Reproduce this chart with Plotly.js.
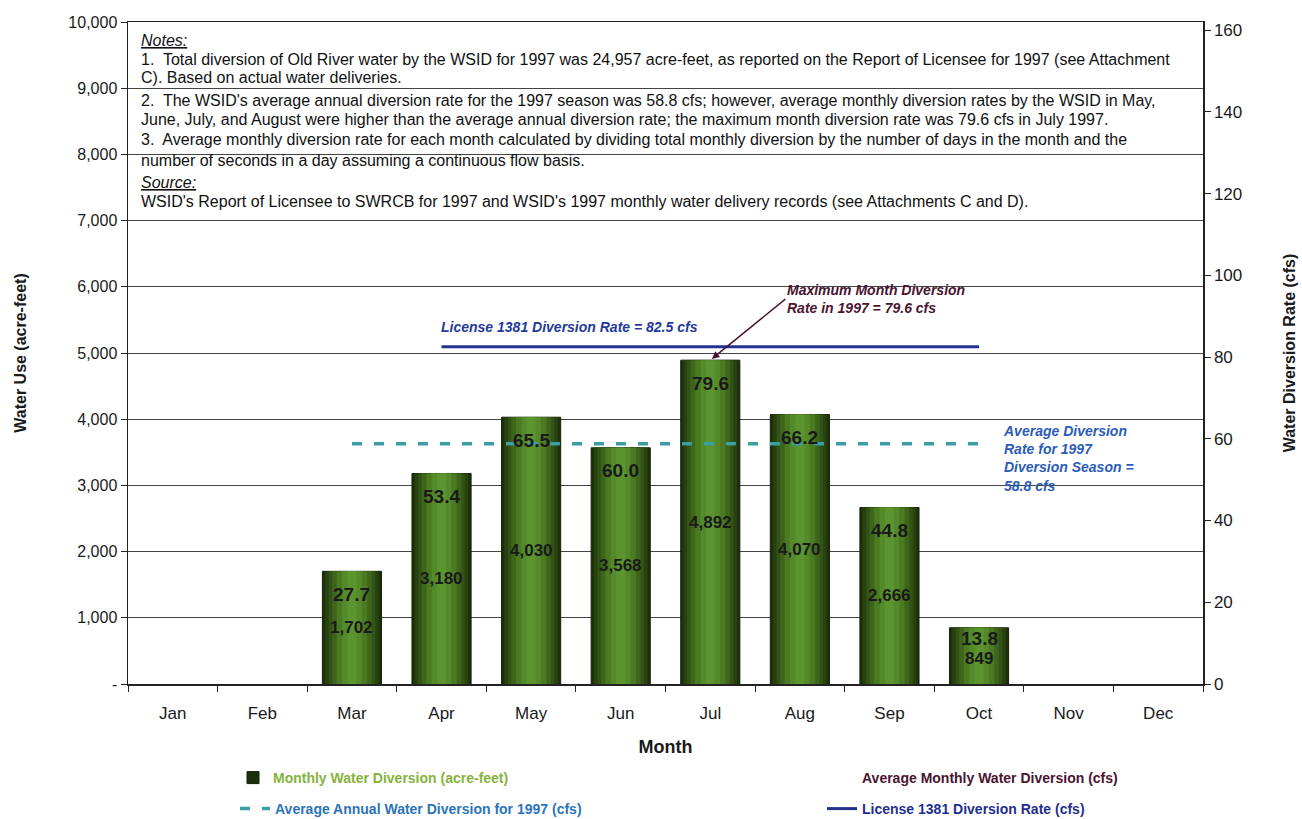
<!DOCTYPE html>
<html>
<head>
<meta charset="utf-8">
<script src="https://cdn.plot.ly/plotly-3.0.1.min.js"></script>
<style>
  html, body { margin: 0; padding: 0; background: #fff; }
  #chart { width: 1302px; height: 819px; }
</style>
</head>
<body>
<div id="chart"></div>
<script>
// ---------- DATA ----------
const months = ['Jan','Feb','Mar','Apr','May','Jun','Jul','Aug','Sep','Oct','Nov','Dec'];
const acreFeet = [null, null, 1702, 3180, 4030, 3568, 4892, 4070, 2666, 849, null, null];
const cfs = [null, null, 27.7, 53.4, 65.5, 60.0, 79.6, 66.2, 44.8, 13.8, null, null];
const avgAnnualMonths = ['Mar','Oct'];
const avgAnnualCfs = [58.8, 58.8];
const licenseMonths = ['Apr','Oct'];
const licenseCfs = [82.5, 82.5];
const leftTickVals = [0,1000,2000,3000,4000,5000,6000,7000,8000,9000,10000];
const leftTickText = ['-','1,000','2,000','3,000','4,000','5,000','6,000','7,000','8,000','9,000','10,000'];
const rightTickVals = [0,20,40,60,80,100,120,140,160];

const notesLines = [
  '<i><u>Notes:</u></i>',
  '1.  Total diversion of Old River water by the WSID for 1997 was 24,957 acre-feet, as reported on the Report of Licensee for 1997 (see Attachment',
  'C). Based on actual water deliveries.',
  "2.  The WSID's average annual diversion rate for the 1997 season was 58.8 cfs; however, average monthly diversion rates by the WSID in May,",
  'June, July, and August were higher than the average annual diversion rate; the maximum month diversion rate was 79.6 cfs in July 1997.',
  '3.  Average monthly diversion rate for each month calculated by dividing total monthly diversion by the number of days in the month and the',
  'number of seconds in a day assuming a continuous flow basis.',
  '<i><u>Source:</u></i>',
  "WSID's Report of Licensee to SWRCB for 1997 and WSID's 1997 monthly water delivery records (see Attachments C and D)."
];

// ---------- LAYOUT HELPERS ----------
const W = 1302, H = 819;
const M = {l: 128, r: 99, t: 22, b: 135};
const PW = W - M.l - M.r, PH = H - M.t - M.b;
const px = x => (x - M.l) / PW;
const py = y => (H - M.b - y) / PH;
const cx = x => x / W;
const cy = y => 1 - y / H;

// ---------- TRACES ----------
const shades = [
  {w: 0.66, c: '#1c300b'},
  {w: 0.60, c: '#27410f'},
  {w: 0.52, c: '#325315'},
  {w: 0.44, c: '#3e661b'},
  {w: 0.34, c: '#4a7a22'},
  {w: 0.22, c: '#558a2a'},
  {w: 0.10, c: '#5c952f'}
];
const traces = [];
shades.forEach((s, i) => {
  traces.push({
    type: 'bar', x: months, y: acreFeet, width: s.w,
    name: '<span style="color:#86b33c">Monthly Water Diversion (acre-feet)</span>',
    marker: {color: s.c, line: {width: i === 0 ? 1 : 0, color: '#142208'}},
    showlegend: i === 0, legend: 'legend', hoverinfo: 'skip'
  });
});
traces.push({
  type: 'scatter', mode: 'lines', x: months, y: cfs, yaxis: 'y2',
  name: '<span style="color:#4a1430">Average Monthly Water Diversion (cfs)</span>',
  line: {color: 'rgba(0,0,0,0)', width: 0}, legend: 'legend2', hoverinfo: 'skip'
});
traces.push({
  type: 'scatter', mode: 'lines', x: avgAnnualMonths, y: avgAnnualCfs, yaxis: 'y2',
  name: '<span style="color:#2c74b8">Average Annual Water Diversion for 1997 (cfs)</span>',
  line: {color: '#3a9ea2', width: 3.5, dash: '10px,12px'}, legend: 'legend3'
});
traces.push({
  type: 'scatter', mode: 'lines', x: licenseMonths, y: licenseCfs, yaxis: 'y2',
  name: '<span style="color:#1f2f8f">License 1381 Diversion Rate (cfs)</span>',
  line: {color: '#23328f', width: 3}, legend: 'legend4'
});

// ---------- ANNOTATIONS ----------
const annotations = [];
const notesY = [40, 59, 78, 101, 120, 139, 160, 182, 202];
notesLines.forEach((t, i) => {
  annotations.push({
    xref: 'paper', yref: 'paper', x: px(139), y: py(notesY[i]),
    xanchor: 'left', yanchor: 'middle', showarrow: false, text: t,
    font: {family: 'Liberation Sans, Arial', size: 16, color: '#111'}
  });
});
months.forEach((m, i) => {
  if (acreFeet[i] == null) return;
  annotations.push({
    x: m, y: acreFeet[i], xref: 'x', yref: 'y', yshift: acreFeet[i] < 1500 ? -11 : -23, showarrow: false,
    text: cfs[i].toFixed(1),
    font: {family: 'Liberation Sans, Arial', size: 19, color: '#1a1a1a', weight: 'bold'}
  });
  annotations.push({
    x: m, y: acreFeet[i] / 2, xref: 'x', yref: 'y', yshift: acreFeet[i] < 1500 ? -3 : 0, showarrow: false,
    text: acreFeet[i].toLocaleString('en-US'),
    font: {family: 'Liberation Sans, Arial', size: 17, color: '#1a1a1a', weight: 'bold'}
  });
});
annotations.push({
  xref: 'paper', yref: 'paper', x: px(569), y: py(327), xanchor: 'center', yanchor: 'middle',
  showarrow: false, text: '<b><i>License 1381 Diversion Rate = 82.5 cfs</i></b>',
  font: {family: 'Liberation Sans, Arial', size: 14, color: '#1f3a9c'}
});
annotations.push({
  x: 'Jul', y: acreFeet[6], xref: 'x', yref: 'y',
  text: '<b><i>Maximum Month Diversion<br>Rate in 1997 = 79.6 cfs</i></b>',
  align: 'left', xanchor: 'left', yanchor: 'middle',
  showarrow: true, arrowhead: 2, arrowsize: 1, arrowwidth: 1.5, arrowcolor: '#4a1430',
  axref: 'pixel', ayref: 'pixel', ax: 75, ay: -61, standoff: 2,
  font: {family: 'Liberation Sans, Arial', size: 14, color: '#4a1430'}
});
annotations.push({
  xref: 'paper', yref: 'paper', x: px(1001), y: py(458), xanchor: 'left', yanchor: 'middle',
  showarrow: false, align: 'left',
  text: '<b><i>Average Diversion<br>Rate for 1997<br>Diversion Season =<br>58.8 cfs</i></b>',
  font: {family: 'Liberation Sans, Arial', size: 14, color: '#2a5cb8'}
});

// ---------- LAYOUT ----------
const tickFont = {family: 'Liberation Sans, Arial', size: 16, color: '#1a1a1a'};
const legendFont = {family: 'Liberation Sans, Arial', size: 14, weight: 'bold'};
function mkLegend(xPix, yPix) {
  return {
    orientation: 'h', xref: 'container', yref: 'container',
    x: cx(xPix), y: cy(yPix), xanchor: 'left', yanchor: 'top',
    font: legendFont, bgcolor: 'rgba(0,0,0,0)'
  };
}
const layout = {
  width: W, height: H,
  margin: M,
  paper_bgcolor: '#fff', plot_bgcolor: '#fff',
  barmode: 'overlay',
  showlegend: true,
  xaxis: {
    type: 'category', categoryorder: 'array', categoryarray: months,
    range: [-0.5, 11.5],
    showline: true, linecolor: '#222', linewidth: 1.5, mirror: true,
    ticks: 'outside', tickson: 'boundaries', ticklen: 6, tickcolor: '#222',
    ticklabelstandoff: 13,
    tickfont: {family: 'Liberation Sans, Arial', size: 17, color: '#1a1a1a'}, showgrid: false,
    title: {text: '<b>Month</b>', font: {family: 'Liberation Sans, Arial', size: 18, color: '#1a1a1a'}, standoff: 18}
  },
  yaxis: {
    range: [0, 10000], tickvals: leftTickVals, ticktext: leftTickText,
    showline: true, linecolor: '#222', linewidth: 1.5,
    ticks: 'outside', ticklen: 6, tickcolor: '#222',
    showgrid: true, gridcolor: '#444', gridwidth: 1,
    tickfont: tickFont, zeroline: false,
    title: {text: '<b>Water Use (acre-feet)</b>', font: {family: 'Liberation Sans, Arial', size: 16, color: '#1a1a1a'}, standoff: 38}
  },
  yaxis2: {
    overlaying: 'y', side: 'right', range: [0, 162], tickvals: rightTickVals,
    showline: true, linecolor: '#222', linewidth: 1.5,
    ticks: 'outside', ticklen: 6, tickcolor: '#222',
    showgrid: false, zeroline: false,
    tickfont: {family: 'Liberation Sans, Arial', size: 17, color: '#1a1a1a'},
    title: {text: '<b>Water Diversion Rate (cfs)</b>', font: {family: 'Liberation Sans, Arial', size: 16, color: '#1a1a1a'}, standoff: 42}
  },
  legend: mkLegend(233, 762),
  legend2: mkLegend(822, 762),
  legend3: mkLegend(235, 793),
  legend4: mkLegend(822, 793),
  annotations: annotations
};

Plotly.newPlot('chart', traces, layout, {displayModeBar: false, staticPlot: true});
</script>
</body>
</html>
